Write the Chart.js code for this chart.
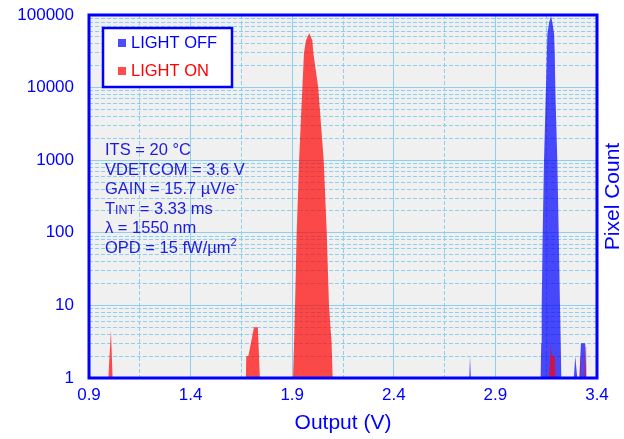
<!DOCTYPE html>
<html><head><meta charset="utf-8">
<script src="https://cdn.jsdelivr.net/npm/chart.js@4"></script>
<style>html,body{margin:0;padding:0;background:#fff;}#wrap{width:624px;height:439px;position:relative;}</style>
</head><body><div id="wrap"><canvas id="c"></canvas></div>
<script>
// ---- data ----
const seriesNames = ['LIGHT OFF', 'LIGHT ON'];
const offX = [2.771, 2.775, 2.779,
  3.1225, 3.1255, 3.1278, 3.1328, 3.1392, 3.1490, 3.1530, 3.1560, 3.1650, 3.1736,
  3.1800, 3.1885, 3.1920, 3.1948, 3.2046, 3.2115, 3.2179, 3.2215, 3.2243,
  3.286, 3.293, 3.303, 3.313, 3.321, 3.342, 3.347];
const offY = [1, 2, 1,
  1, 3, 10, 100, 1000, 10000, 30000, 56000, 80000, 96000,
  80000, 56000, 30000, 10000, 1000, 100, 10, 3, 1,
  1, 2, 1, 1, 3, 3, 1];
const onX = [0.995, 1.008, 1.016,
  1.672, 1.674, 1.684, 1.712, 1.731, 1.741,
  1.904, 1.909, 1.914, 1.922, 1.934, 1.950, 1.958, 1.968, 1.984, 1.999, 2.004, 2.028, 2.055, 2.070, 2.081, 2.094, 2.099,
  3.164, 3.172, 3.177, 3.193, 3.195,
  3.312, 3.316, 3.319, 3.3205,
  3.340, 3.344, 3.347, 3.349];
const onY = [1, 4.5, 1,
  1, 2, 2, 5, 5, 1,
  1, 3, 10, 100, 1000, 10000, 30000, 45000, 56000, 45000, 30000, 10000, 1000, 100, 10, 3, 1,
  1, 3, 2, 2, 1,
  1, 2, 2, 1,
  1, 2.7, 2.7, 1];
const xMajorTicks = [0.9, 1.4, 1.9, 2.4, 2.9, 3.4];
const xTickLabels = ['0.9', '1.4', '1.9', '2.4', '2.9', '3.4'];
const yDecades = [1, 10, 100, 1000, 10000, 100000];
const yTickLabels = ['1', '10', '100', '1000', '10000', '100000'];
const xTitle = 'Output (V)';
const yTitle = 'Pixel Count';
// annotation lines: [text, style]  n = normal, s = superscript, c = small caps
const notes = [
  [['ITS = 20 °C', 'n']],
  [['VDETCOM = 3.6 V', 'n']],
  [['GAIN = 15.7 µV/e', 'n'], ['-', 's']],
  [['T', 'n'], ['INT', 'c'], [' = 3.33 ms', 'n']],
  [['λ = 1550 nm', 'n']],
  [['OPD = 15 fW/µm', 'n'], ['2', 's']]
];

// ---- styling ----
const FONT = "'Liberation Sans', Arial, Helvetica, sans-serif";
const BLUE = '#0000ff';
const fillColors = ['rgba(0,0,255,0.7)', 'rgba(255,0,0,0.7)'];
const legendTextColors = ['#0000ff', '#ff0000'];
const gridMajor = '#8ccfee';
const gridMinor = '#8ccfee';

const xMinor = xMajorTicks.slice(0, -1).map((v, i) => (v + xMajorTicks[i + 1]) / 2);
const xAllTicks = xMajorTicks.concat(xMinor).sort((a, b) => a - b);
const yAllTicks = [];
yDecades.forEach((d, i) => {
  if (i === yDecades.length - 1) { yAllTicks.push(d); return; }
  for (let m = 1; m <= 9; m++) yAllTicks.push(d * m);
});
const isXMajor = v => xMajorTicks.some(m => Math.abs(m - v) < 1e-6);
const isYMajor = v => yDecades.some(m => Math.abs(m - v) < 1e-6);

const toPts = (xs, ys) => xs.map((x, i) => ({x, y: ys[i]}));

const deco = {
  id: 'deco',
  beforeDraw(chart) {
    const {ctx, chartArea: a} = chart;
    ctx.save();
    ctx.fillStyle = '#f0f0f0';
    ctx.fillRect(a.left, a.top, a.right - a.left, a.bottom - a.top);
    ctx.restore();
  },
  afterDatasetsDraw(chart) {
    const {ctx, chartArea: a} = chart;
    ctx.save();
    ctx.strokeStyle = BLUE;
    ctx.lineWidth = 3;
    ctx.strokeRect(a.left, a.top, a.right - a.left, a.bottom - a.top);
    // legend box
    const lx = a.left + 14, ly = a.top + 13, lw = 129, lh = 59;
    ctx.fillStyle = '#ffffff';
    ctx.fillRect(lx, ly, lw, lh);
    ctx.lineWidth = 2.5;
    ctx.strokeRect(lx, ly, lw, lh);
    ctx.font = '16.5px ' + FONT;
    ctx.textBaseline = 'middle';
    ctx.textAlign = 'left';
    chart.data.datasets.forEach((ds, i) => {
      const cy = ly + 15 + i * 28;
      ctx.fillStyle = ds.backgroundColor;
      ctx.fillRect(lx + 15, cy - 4, 8, 8);
      ctx.fillStyle = legendTextColors[i];
      ctx.fillText(ds.label, lx + 28, cy + 0.5);
    });
    // annotations
    ctx.textBaseline = 'alphabetic';
    ctx.fillStyle = '#1c1cdc';
    notes.forEach((line, i) => {
      let x = a.left + 16;
      const y = a.top + 140 + i * 19.6;
      line.forEach(([t, st]) => {
        let size = 16.5, dy = 0;
        if (st === 's') { size = 11; dy = -7; }
        if (st === 'c') { size = 12.5; }
        ctx.font = size + 'px ' + FONT;
        ctx.fillText(t, x, y + dy);
        x += ctx.measureText(t).width;
      });
    });
    // right axis title
    ctx.translate(a.right + 16, (a.top + a.bottom) / 2);
    ctx.rotate(-Math.PI / 2);
    ctx.font = '21px ' + FONT;
    ctx.textAlign = 'center';
    ctx.textBaseline = 'middle';
    ctx.fillStyle = BLUE;
    ctx.fillText(yTitle, 0, 0);
    ctx.restore();
  }
};

new Chart(document.getElementById('c'), {
  type: 'line',
  data: {
    datasets: [
      {label: seriesNames[0], data: toPts(offX, offY), backgroundColor: fillColors[0],
       borderColor: 'rgba(0,0,0,0)', borderWidth: 1, fill: 'start', pointRadius: 0, tension: 0, order: 2},
      {label: seriesNames[1], data: toPts(onX, onY), backgroundColor: fillColors[1],
       borderColor: 'rgba(0,0,0,0)', borderWidth: 1, fill: 'start', pointRadius: 0, tension: 0, order: 1}
    ]
  },
  options: {
    responsive: true,
    maintainAspectRatio: false,
    animation: false,
    devicePixelRatio: 1,
    layout: {padding: {top: 15, right: 27, left: 0, bottom: 0}},
    plugins: {legend: {display: false}, tooltip: {enabled: false}},
    scales: {
      x: {
        type: 'linear', min: xMajorTicks[0], max: xMajorTicks[xMajorTicks.length - 1],
        afterBuildTicks: s => { s.ticks = xAllTicks.map(v => ({value: v})); },
        afterFit: s => { s.height = 61; s.paddingLeft = 0; s.paddingRight = 0; },
        ticks: {
          autoSkip: false, maxRotation: 0, padding: 7, color: BLUE,
          font: {family: FONT, size: 17},
          callback: v => { const i = xMajorTicks.findIndex(m => Math.abs(m - v) < 1e-6); return i >= 0 ? xTickLabels[i] : ''; }
        },
        grid: {
          drawTicks: false, lineWidth: 1,
          color: c => (c.tick && isXMajor(c.tick.value)) ? gridMajor : gridMinor
        },
        border: {display: false, dash: c => (c.tick && isXMajor(c.tick.value)) ? [] : [4, 2]},
        title: {display: true, text: xTitle, color: BLUE, font: {family: FONT, size: 21}, padding: {top: 0, bottom: 3}}
      },
      y: {
        type: 'logarithmic', min: yDecades[0], max: yDecades[yDecades.length - 1],
        afterBuildTicks: s => { s.ticks = yAllTicks.map(v => ({value: v})); },
        afterFit: s => { s.width = 89; s.paddingTop = 0; s.paddingBottom = 0; },
        ticks: {
          autoSkip: false, padding: 15, color: BLUE,
          font: {family: FONT, size: 17},
          callback: v => { const i = yDecades.findIndex(m => Math.abs(m - v) < 1e-6); return i >= 0 ? yTickLabels[i] : ''; }
        },
        grid: {
          drawTicks: false, lineWidth: 1,
          color: c => (c.tick && isYMajor(c.tick.value)) ? gridMajor : gridMinor
        },
        border: {display: false, dash: c => (c.tick && isYMajor(c.tick.value)) ? [] : [4, 2]}
      }
    }
  },
  plugins: [deco]
});
</script>
</body></html>
